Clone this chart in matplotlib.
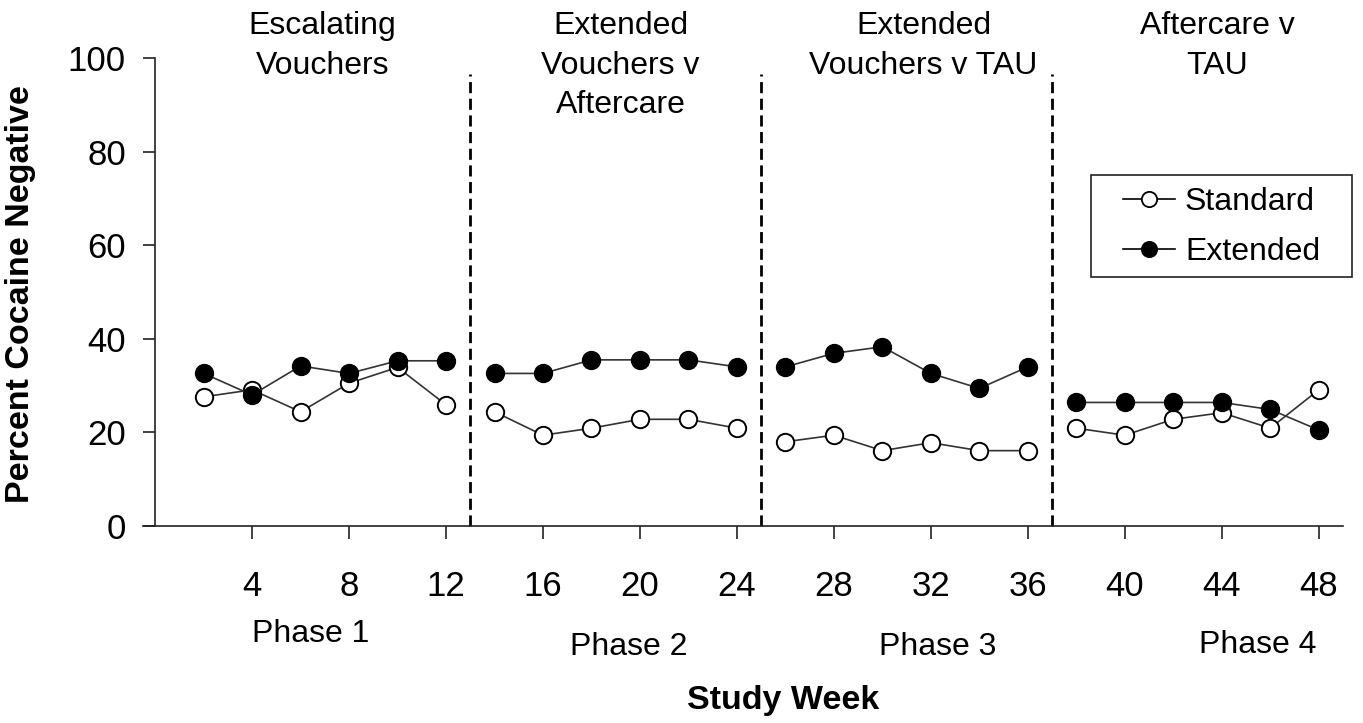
import matplotlib
matplotlib.use("Agg")
import matplotlib.pyplot as plt
import matplotlib.transforms as mtransforms
from matplotlib.patches import Rectangle
from matplotlib.lines import Line2D

plt.rcParams['font.family'] = ['Liberation Sans', 'DejaVu Sans']

weeks = [2, 4, 6, 8, 10, 12, 14, 16, 18, 20, 22, 24,
         26, 28, 30, 32, 34, 36, 38, 40, 42, 44, 46, 48]
standard = [27.6, 29.1, 24.4, 30.5, 33.9, 25.9,
            24.4, 19.4, 20.9, 22.8, 22.8, 20.9,
            18.0, 19.4, 16.1, 17.8, 16.1, 16.1,
            20.9, 19.4, 22.8, 24.2, 20.9, 29.1]
extended = [32.6, 28.0, 34.2, 32.6, 35.3, 35.3,
            32.6, 32.6, 35.5, 35.5, 35.5, 34.0,
            34.0, 36.9, 38.3, 32.6, 29.4, 34.0,
            26.4, 26.4, 26.4, 26.4, 24.9, 20.5]
x_ticks = [4, 8, 12, 16, 20, 24, 28, 32, 36, 40, 44, 48]
y_ticks = [0, 20, 40, 60, 80, 100]
phase_breaks = [13, 25, 37]
phase_titles = ["Escalating\nVouchers", "Extended\nVouchers v\nAftercare",
                "Extended\nVouchers v TAU", "Aftercare v\nTAU"]
title_x = [6.9, 19.2, 31.7, 43.8]
phase_labels = ["Phase 1", "Phase 2", "Phase 3", "Phase 4"]
phase_label_x = [6.4, 19.55, 32.3, 45.5]
phase_label_ypx = [634, 647, 647, 645]

W, H = 1363, 723
fig = plt.figure(figsize=(W / 100, H / 100), dpi=100)
ax = fig.add_axes([143 / W, 1 - 526 / H, (1343 - 143) / W, (526 - 58) / H])

line_col = '#333333'
edges = [0] + phase_breaks + [100]
for lo, hi in zip(edges[:-1], edges[1:]):
    idx = [i for i, w in enumerate(weeks) if lo < w < hi]
    xs = [weeks[i] for i in idx]
    ax.plot(xs, [standard[i] for i in idx], '-', color=line_col, lw=1.2, marker='o',
            ms=12.5, mfc='white', mec='black', mew=1.4, clip_on=False, zorder=3)
    ax.plot(xs, [extended[i] for i in idx], '-', color=line_col, lw=1.2, marker='o',
            ms=12.5, mfc='black', mec='black', mew=1.4, clip_on=False, zorder=4)

for b in phase_breaks:
    ax.plot([b, b], [0, 96.5], color='black', lw=2.0, ls=(0, (4, 2)),
            clip_on=False, zorder=2)

ax.set_xlim(-0.5, 49)
ax.set_ylim(0, 100)
ax.spines['top'].set_visible(False)
ax.spines['right'].set_visible(False)
ax.spines['left'].set_position(('data', 0))
for s in ('left', 'bottom'):
    ax.spines[s].set_linewidth(1.2)
    ax.spines[s].set_color('#222222')
ax.set_xticks(x_ticks)
ax.set_yticks(y_ticks)
ax.tick_params(axis='x', length=9.5, width=1.2, pad=22, labelsize=25, color='#222222')
ax.tick_params(axis='y', length=9, width=1.2, pad=12, labelsize=25, color='#222222')

fig.text(783 / W, 1 - 701 / H, "Study Week", ha='center', va='center',
         fontsize=24.5, fontweight='bold')
fig.text(21 / W, 1 - 294.5 / H, "Percent Cocaine Negative", ha='center', va='center',
         rotation=90, fontsize=24.5, fontweight='bold')

blend = mtransforms.blended_transform_factory(ax.transData, fig.transFigure)
for t, x in zip(phase_titles, title_x):
    ax.text(x, 1 - 11 / H, t, transform=blend,
            ha='center', va='top', fontsize=23, linespacing=1.42)

for t, x, ypx in zip(phase_labels, phase_label_x, phase_label_ypx):
    ax.text(x, 1 - ypx / H, t, transform=blend,
            ha='center', va='center', fontsize=23)

handles = [Line2D([], [], color='black', lw=1.2, marker='o', ms=11, mfc='white', mec='black', mew=1.3),
           Line2D([], [], color='black', lw=1.2, marker='o', ms=11, mfc='black', mec='black', mew=1.3)]
fs = 23
bp = 0.2
fig.legend(handles, ["Standard", "Extended"], loc='center left',
           bbox_to_anchor=((1123 - bp * fs * 100 / 72) / W, 1 - 227 / H),
           frameon=False, fontsize=fs, handlelength=1.63, handletextpad=0.31,
           labelspacing=0.62, borderpad=bp, borderaxespad=0)
fig.patches.append(Rectangle((1091 / W, 1 - 277 / H), (1352 - 1091) / W, (277 - 175) / H,
                             transform=fig.transFigure, fill=False, ec='#222222', lw=1.2))

fig.savefig("out.png", dpi=100)
